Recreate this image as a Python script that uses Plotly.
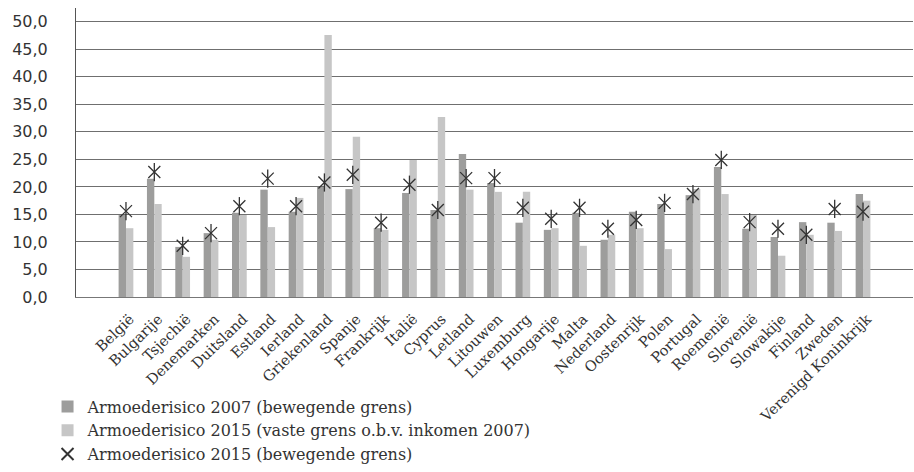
import plotly.graph_objects as go

countries = ["België", "Bulgarije", "Tsjechië", "Denemarken", "Duitsland", "Estland", "Ierland",
             "Griekenland", "Spanje", "Frankrijk", "Italië", "Cyprus", "Letland", "Litouwen",
             "Luxemburg", "Hongarije", "Malta", "Nederland", "Oostenrijk", "Polen", "Portugal",
             "Roemenië", "Slovenië", "Slowakije", "Finland", "Zweden", "Verenigd Koninkrijk"]

risk_2007 = [14.9, 21.5, 9.1, 11.6, 15.3, 19.5, 15.5, 20.0, 19.6, 12.5, 18.9, 15.8, 26.0, 20.7,
             13.5, 12.2, 15.3, 10.4, 15.5, 16.9, 18.5, 23.6, 12.4, 10.9, 13.6, 13.5, 18.7]
risk_2015_fixed = [12.5, 16.9, 7.3, 10.4, 14.9, 12.7, 18.0, 47.6, 29.1, 12.2, 24.9, 32.7, 19.5, 19.1,
                   19.1, 12.5, 9.3, 11.3, 12.5, 8.7, 19.6, 18.7, 14.9, 7.5, 11.3, 12.0, 17.5]
risk_2015_moving = [15.6, 22.7, 9.3, 11.6, 16.5, 21.5, 16.5, 20.8, 22.2, 13.5, 20.4, 15.8, 21.6, 21.6,
                    16.2, 14.2, 16.2, 12.4, 14.0, 17.1, 18.7, 24.9, 13.6, 12.4, 11.3, 16.0, 15.5]

y_ticks = [0, 5, 10, 15, 20, 25, 30, 35, 40, 45, 50]
y_tick_labels = ["0,0", "5,0", "10,0", "15,0", "20,0", "25,0", "30,0", "35,0", "40,0", "45,0", "50,0"]

star_name = "Armoederisico 2015 (bewegende grens)"

fig = go.Figure()
fig.add_trace(go.Bar(x=countries, y=risk_2007, name="Armoederisico 2007 (bewegende grens)",
                     marker=dict(color="#9d9d9c", line=dict(width=0))))
fig.add_trace(go.Bar(x=countries, y=risk_2015_fixed, name="Armoederisico 2015 (vaste grens o.b.v. inkomen 2007)",
                     marker=dict(color="#c6c6c6", line=dict(width=0))))
fig.add_trace(go.Scatter(x=countries, y=risk_2015_moving, mode="markers",
                         name=star_name, legendgroup="star",
                         marker=dict(symbol="x-thin-open", size=12, color="#333333",
                                     line=dict(color="#333333", width=1.3))))
fig.add_trace(go.Scatter(x=countries, y=risk_2015_moving, mode="markers",
                         name=star_name, legendgroup="star", showlegend=False,
                         marker=dict(symbol="line-ns-open", size=13, color="#333333",
                                     line=dict(color="#333333", width=1.3))))

fig.update_layout(
    width=914, height=472,
    margin=dict(l=76, r=1, t=8, b=175, autoexpand=False),
    paper_bgcolor="white", plot_bgcolor="white",
    barmode="group", bargap=0.48, bargroupgap=0,
    showlegend=True,
    legend=dict(orientation="v", x=-0.034, xanchor="left", y=-0.32, yanchor="top",
                font=dict(family="DejaVu Serif", size=16, color="#333333"),
                tracegroupgap=0, itemsizing="constant", bgcolor="rgba(0,0,0,0)"),
    font=dict(family="DejaVu Serif", color="#333333"),
)
fig.update_xaxes(tickangle=-44, tickfont=dict(family="DejaVu Serif", size=14.5, color="#333333"),
                 showline=True, linecolor="#777777", linewidth=1, ticks="", showgrid=False,
                 ticklabelstandoff=7, ticklabelshift=4, automargin=False)
fig.update_yaxes(range=[0, 52.5], tickvals=y_ticks, ticktext=y_tick_labels,
                 tickfont=dict(family="DejaVu Sans", size=16, color="#333333"),
                 showgrid=True, gridcolor="#6f6f6f", gridwidth=1, zeroline=False,
                 showline=True, linecolor="#555555", linewidth=1, ticks="", ticklabelstandoff=24,
                 automargin=False)

fig.write_html("out.html", config={"displayModeBar": False},
               post_script="document.body.style.margin='0';document.body.style.overflow='hidden';")
